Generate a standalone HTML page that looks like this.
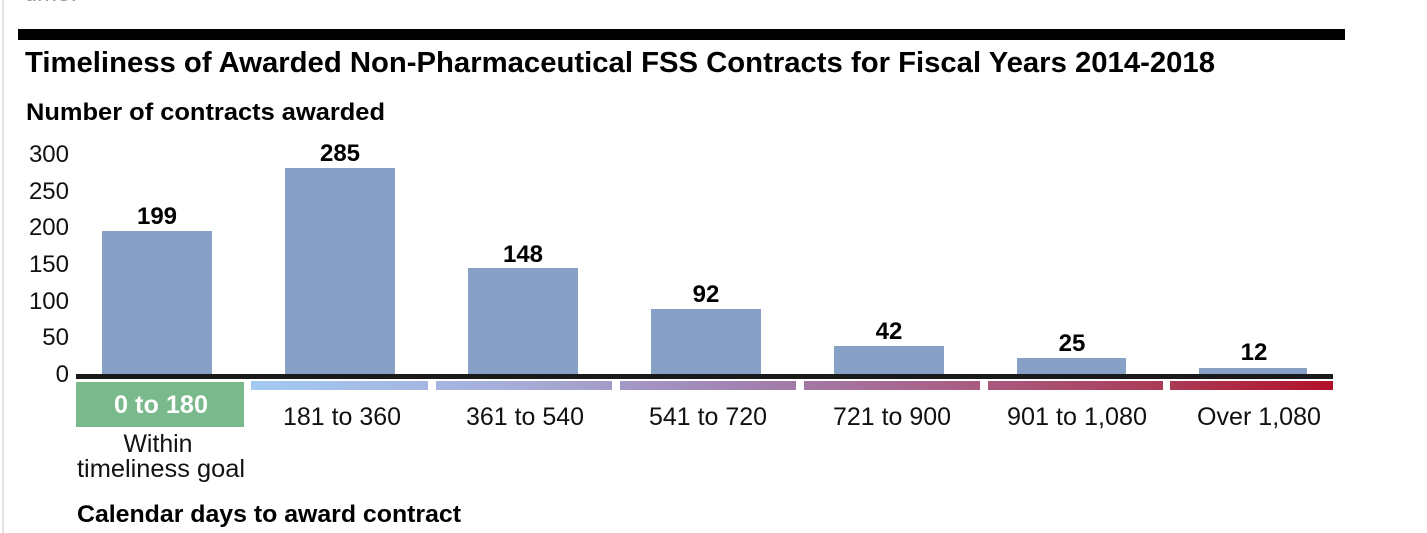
<!DOCTYPE html>
<html><head><meta charset="utf-8">
<style>
html,body{margin:0;padding:0;background:#fff;}
svg{display:block;}
text{font-family:"Liberation Sans",Arial,sans-serif;}
</style></head>
<body>
<svg width="1427" height="533" viewBox="0 0 1427 533" xmlns="http://www.w3.org/2000/svg">
<defs>
<linearGradient id="g" gradientUnits="userSpaceOnUse" x1="251" y1="0" x2="1333" y2="0">
<stop offset="0" stop-color="#a2caf2"/>
<stop offset="0.25" stop-color="#a6acd8"/>
<stop offset="0.45" stop-color="#a183b2"/>
<stop offset="0.65" stop-color="#a95f86"/>
<stop offset="0.85" stop-color="#ab3a55"/>
<stop offset="1" stop-color="#b3102a"/>
</linearGradient>
</defs>
<rect x="0" y="0" width="1427" height="533" fill="#fff"/>
<rect x="2" y="0" width="2" height="533" fill="#e2e2e2"/>
<text x="25" y="1" font-size="24" fill="#999">time.</text>
<rect x="18" y="29" width="1327" height="11" fill="#000"/>
<text x="25" y="72" font-size="29" font-weight="bold" fill="#000" textLength="1190" lengthAdjust="spacingAndGlyphs">Timeliness of Awarded Non-Pharmaceutical FSS Contracts for Fiscal Years 2014-2018</text>
<text x="26" y="120" font-size="24" font-weight="bold" fill="#000" textLength="359" lengthAdjust="spacingAndGlyphs">Number of contracts awarded</text>
<g font-size="24" fill="#111" text-anchor="end">
<text x="69" y="162">300</text>
<text x="69" y="199">250</text>
<text x="69" y="235">200</text>
<text x="69" y="272">150</text>
<text x="69" y="309">100</text>
<text x="69" y="345">50</text>
<text x="69" y="382">0</text>
</g>
<g fill="#87a1c6">
<rect x="102" y="231" width="110" height="146"/>
<rect x="285" y="168" width="110" height="209"/>
<rect x="468" y="268" width="110" height="109"/>
<rect x="651" y="309" width="110" height="68"/>
<rect x="834" y="346" width="110" height="31"/>
<rect x="1017" y="358" width="109" height="19"/>
<rect x="1199" y="368" width="108" height="9"/>
</g>
<g font-size="24" font-weight="bold" fill="#000" text-anchor="middle">
<text x="157" y="224">199</text>
<text x="340" y="161">285</text>
<text x="523" y="262">148</text>
<text x="706" y="302">92</text>
<text x="889" y="339">42</text>
<text x="1072" y="351">25</text>
<text x="1254" y="360">12</text>
</g>
<rect x="76" y="374" width="1257" height="5" fill="#1a1a1a"/>
<rect x="76" y="382" width="168" height="45" fill="#7ab98c"/>
<text x="161" y="413" font-size="25" font-weight="bold" fill="#fff" text-anchor="middle" textLength="94" lengthAdjust="spacingAndGlyphs">0 to 180</text>
<g fill="url(#g)">
<rect x="251" y="381" width="177" height="9"/>
<rect x="436" y="381" width="176" height="9"/>
<rect x="620" y="381" width="176" height="9"/>
<rect x="804" y="381" width="176" height="9"/>
<rect x="988" y="381" width="175" height="9"/>
<rect x="1170" y="381" width="163" height="9"/>
</g>
<g font-size="25" fill="#111" text-anchor="middle">
<text x="342" y="425" textLength="118" lengthAdjust="spacingAndGlyphs">181 to 360</text>
<text x="525" y="425" textLength="118" lengthAdjust="spacingAndGlyphs">361 to 540</text>
<text x="708" y="425" textLength="118" lengthAdjust="spacingAndGlyphs">541 to 720</text>
<text x="892" y="425" textLength="118" lengthAdjust="spacingAndGlyphs">721 to 900</text>
<text x="1077" y="425" textLength="140" lengthAdjust="spacingAndGlyphs">901 to 1,080</text>
<text x="1259" y="425" textLength="124" lengthAdjust="spacingAndGlyphs">Over 1,080</text>
<text x="158" y="452" textLength="69" lengthAdjust="spacingAndGlyphs">Within</text>
<text x="161" y="477" textLength="168" lengthAdjust="spacingAndGlyphs">timeliness goal</text>
</g>
<text x="77" y="522" font-size="24" font-weight="bold" fill="#000" textLength="384" lengthAdjust="spacingAndGlyphs">Calendar days to award contract</text>
</svg>
</body></html>
